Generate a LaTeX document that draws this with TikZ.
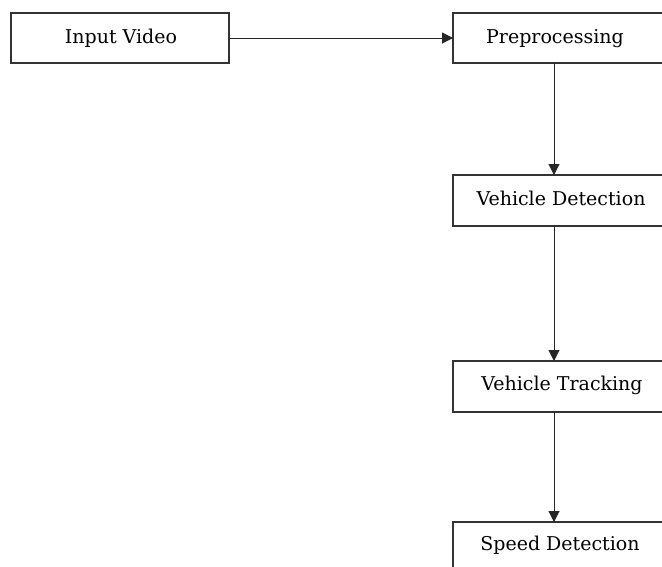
\documentclass[tikz,border=0pt]{standalone}
\usepackage{fontspec}
\setmainfont{DejaVu Serif}
\usetikzlibrary{arrows.meta}
\begin{document}
\begin{tikzpicture}[x=1pt,y=-1pt,
  box/.style={draw=black!80, line width=1.2pt, minimum height=50pt, inner sep=0pt, outer sep=0pt, anchor=north west},
  lbl/.style={anchor=base, inner sep=0pt, font=\fontsize{19}{22}\selectfont, text=black},
  flow/.style={draw=black!85, line width=1pt, -{Triangle[length=11pt,width=11pt]}}]
\useasboundingbox (0,0) rectangle (662,566);
\fill[white] (0,0) rectangle (662,566);
\clip (0,0) rectangle (662,566);
% boxes
\node[box, minimum width=218pt] (in) at (11,13) {};
\node[box, minimum width=260pt] (pre) at (453,13) {};
\node[box, minimum width=260pt, minimum height=51pt] (vd) at (453,175) {};
\node[box, minimum width=260pt, minimum height=51pt] (vt) at (453,361) {};
\node[box, minimum width=260pt, minimum height=51pt] (sd) at (453,522) {};
% labels
\node[lbl] (tin) at (121,43) {Input Video};
\node[lbl] (tpre) at (555,43) {Preprocessing};
\node[lbl] (tvd) at (561,205) {Vehicle Detection};
\node[lbl] (tvt) at (562,390) {Vehicle Tracking};
\node[lbl] (tsd) at (560,550) {Speed Detection};
% connectors
\coordinate (col) at (554,0);
\draw[flow] (in.east) -- (pre.west);
\draw[flow] (pre.south -| col) -- (vd.north -| col);
\draw[flow] (vd.south -| col) -- (vt.north -| col);
\draw[flow] (vt.south -| col) -- (sd.north -| col);
\end{tikzpicture}
\end{document}
